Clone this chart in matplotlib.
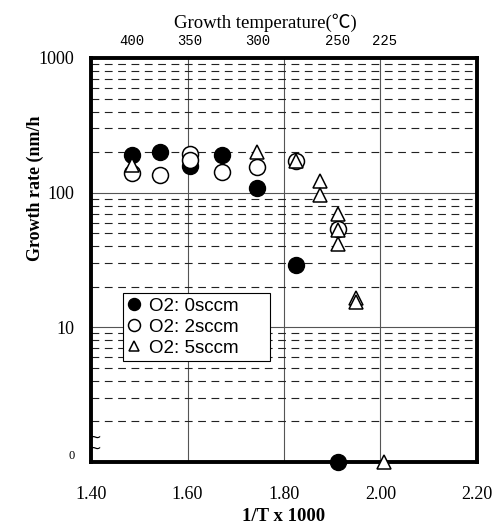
import numpy as np
import matplotlib.pyplot as plt
from matplotlib.ticker import LogLocator, NullFormatter

# growth temperature (C) and growth rate (nm/h); rate 0 sits on the broken axis
temp_0sccm = [400, 375, 350, 325, 300, 275, 250]
rate_0sccm = [190, 199, 158, 190, 108, 29, 0]

temp_2sccm = [400, 375, 350, 350, 325, 300, 275, 250]
rate_2sccm = [139, 135, 194, 175, 143, 154, 173, 54]

temp_5sccm = [400, 300, 275, 260, 260, 250, 250, 250, 240, 240, 225]
rate_5sccm = [160, 201, 171, 122, 96, 69, 53, 41.5, 16.5, 15.5, 0]

top_temps = [400, 350, 300, 250, 225]
x_ticks = [1.40, 1.60, 1.80, 2.00, 2.20]
y_ticks = [1, 10, 100, 1000]
y_ticklabels = ['0', '10', '100', '1000']

SERIF = 'Liberation Serif'


def inv_t(t):
    return 1000.0 / (np.asarray(t, dtype=float) + 273.15)


def on_axis(r):
    r = np.asarray(r, dtype=float)
    return np.where(r <= 0, 1.0, r)


fig = plt.figure(figsize=(4.93, 5.32), dpi=100)
ax = fig.add_axes([91 / 493, 70 / 532, 386 / 493, 404 / 532])

ax.set_yscale('log')
ax.set_ylim(1, 1000)
ax.set_xlim(1.4, 2.2)

# grid: solid decades + verticals, dashed minors
ax.set_xticks(x_ticks)
ax.set_xticklabels(['%.2f' % v for v in x_ticks], family=SERIF, fontsize=13)
ax.set_yticks(y_ticks)
ax.set_yticklabels(y_ticklabels, family=SERIF, fontsize=13)
ax.get_yticklabels()[0].set_fontsize(9)
ax.get_yticklabels()[0].set_va('bottom')
ax.yaxis.set_minor_locator(LogLocator(base=10, subs=np.arange(2, 10)))
ax.yaxis.set_minor_formatter(NullFormatter())
ax.tick_params(axis='both', which='both', length=0)
ax.tick_params(axis='x', pad=17)
ax.tick_params(axis='y', pad=12)
ax.grid(which='major', axis='both', color='#555555', linewidth=0.8)
ax.grid(which='minor', axis='y', color='#222222', linewidth=0.8,
        linestyle=(0, (7, 5)))
ax.set_axisbelow(True)

for s in ax.spines.values():
    s.set_linewidth(2.8)
    s.set_color('black')

# data
ax.plot(inv_t(temp_0sccm), on_axis(rate_0sccm), 'o', ls='none', ms=11.5,
        mfc='black', mec='black', clip_on=False, zorder=5, label='O2: 0sccm')
ax.plot(inv_t(temp_2sccm), on_axis(rate_2sccm), 'o', ls='none', ms=11.5,
        mfc='white', mec='black', mew=1.1, clip_on=False, zorder=6,
        label='O2: 2sccm')
ax.plot(inv_t(temp_5sccm), on_axis(rate_5sccm), '^', ls='none', ms=10,
        mfc='white', mec='black', mew=1.1, clip_on=False, zorder=7,
        label='O2: 5sccm')

leg = ax.legend(loc='upper left', bbox_to_anchor=(0.083, 0.245, 0.381, 0.173),
                mode='expand', borderaxespad=0, frameon=True, fancybox=False,
                edgecolor='black', framealpha=1,
                prop={'family': 'Liberation Sans', 'size': 13.5},
                markerscale=0.75, handlelength=0.7, handletextpad=0.45,
                labelspacing=0.2, borderpad=0.25)
leg.get_frame().set_linewidth(0.8)
leg.set_zorder(10)

# axis break mark
ax.text(0.01, 0.048, '~\n~', transform=ax.transAxes, ha='center',
        va='center', fontsize=11, family='DejaVu Sans', linespacing=0.6,
        clip_on=False)

# top axis: growth temperature
ax2 = ax.twiny()
ax2.set_xlim(ax.get_xlim())
ax2.set_xticks(inv_t(top_temps))
ax2.set_xticklabels([str(t) for t in top_temps], family='Liberation Mono',
                    fontsize=10)
ax2.tick_params(axis='x', length=0, pad=7)
for s in ax2.spines.values():
    s.set_visible(False)

fig.text(265 / 493, 1 - 23 / 532, 'Growth temperature(℃)', ha='center',
         va='center', fontsize=13.5, family=[SERIF, 'Noto Sans CJK JP'])

ax.set_xlabel('1/T x 1000', family=SERIF, fontsize=13.5, fontweight='bold')
ax.xaxis.set_label_coords(0.5, -0.135)
ax.xaxis.label.set_va('center')

fig.text(35 / 493, 1 - 188 / 532, 'Growth rate (nm/h', rotation=90,
         ha='center', va='center', fontsize=13, fontweight='bold',
         family=SERIF)

plt.savefig('out.png', dpi=100)
